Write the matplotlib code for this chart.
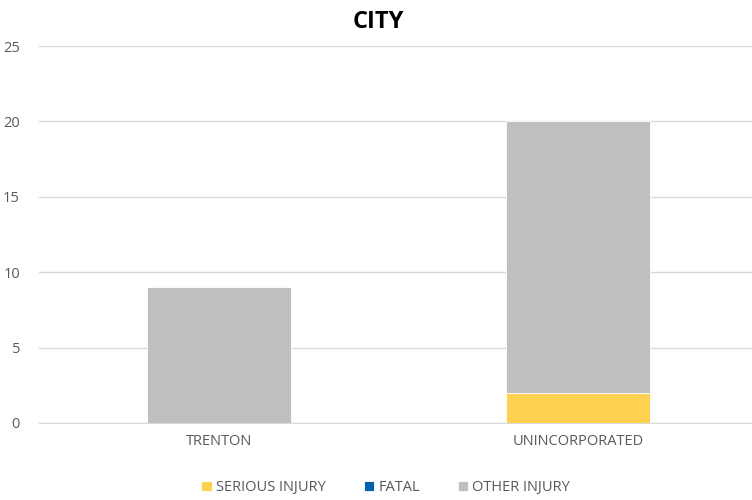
import matplotlib
matplotlib.use("Agg")
import matplotlib.pyplot as plt
import numpy as np

plt.rcParams['font.family'] = ['Open Sans', 'DejaVu Sans']

cities = ["TRENTON", "UNINCORPORATED"]
serious = [0, 2]
fatal = [0, 0]
other = [9, 18]

series_names = ["SERIOUS INJURY", "FATAL", "OTHER INJURY"]
colors = ["#FFD150", "#0062AC", "#BFBFBF"]

fig = plt.figure(figsize=(7.52, 5.0), dpi=100)
ax = fig.add_axes([0.0525, 0.154, 0.955, 0.754])

x = np.arange(len(cities))
bottom = np.zeros(len(cities))
for name, vals, c in zip(series_names, [serious, fatal, other], colors):
    ax.bar(x, vals, width=0.4, bottom=bottom, color=c, label=name,
           edgecolor="white", linewidth=0.6, zorder=3)
    bottom += np.array(vals)

ax.set_xlim(-0.5, 1.5)
ax.set_ylim(0, 25)
ax.set_yticks(range(0, 26, 5))
ax.set_xticks(x)
ax.set_xticklabels(cities)
ax.grid(axis="y", color="#D9D9D9", linewidth=1, zorder=0)
for s in ["top", "right", "left"]:
    ax.spines[s].set_visible(False)
ax.spines["bottom"].set_color("#D9D9D9")
ax.tick_params(axis="both", length=0, colors="#595959", labelsize=10.5, pad=8)
ax.tick_params(axis="y", pad=14)

fig.text(0.503, 0.955, "CITY", fontsize=17, fontweight="bold", color="#000000",
         ha="center", va="center")

handles, labels = ax.get_legend_handles_labels()
fig.legend(handles, labels, loc="center", bbox_to_anchor=(0.513, 0.025), ncol=3,
           frameon=False, fontsize=10.5, handlelength=0.7, handleheight=0.7,
           handletextpad=0.3, columnspacing=2.6, labelcolor="#595959")

fig.savefig("out.png", dpi=100)
